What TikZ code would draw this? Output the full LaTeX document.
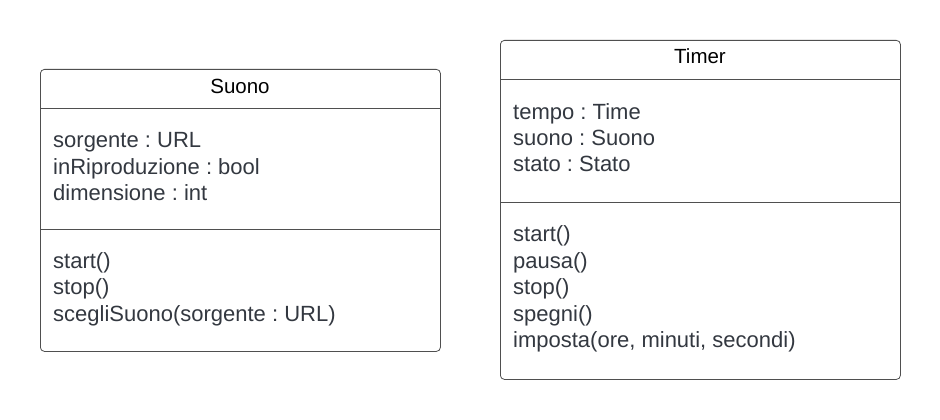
\documentclass[tikz,border=0pt]{standalone}
\usepackage{fontspec}
\setmainfont{Liberation Sans}
\definecolor{boxline}{HTML}{4F4F4F}
\definecolor{bodytext}{HTML}{333840}
\frenchspacing
\begin{document}
\begin{tikzpicture}[x=1pt,y=-1pt,
  classbox/.style={draw=boxline, line width=0.8pt, rounded corners=4pt,
    minimum width=400pt, inner sep=0pt, anchor=north west},
  divider/.style={draw=boxline, line width=0.8pt},
  classname/.style={anchor=base, inner sep=0pt, text=black,
    font=\fontsize{20.5}{24}\selectfont},
  member/.style={anchor=base west, inner sep=0pt, text=bodytext,
    font=\fontsize{22}{26}\selectfont}]
\useasboundingbox[fill=white] (0,0) rectangle (940,420);

% class Suono
\node[classbox, minimum height=282pt] (suono) at (40,69) {};
\draw[divider] ([yshift=-39pt]suono.north west) -- ([yshift=-39pt]suono.north east);
\draw[divider] ([yshift=-160pt]suono.north west) -- ([yshift=-160pt]suono.north east);
\node[classname] (suonoName) at (240,93.3) {Suono};
\foreach \txt [count=\i] in {sorgente : URL, inRiproduzione : bool, dimensione : int}
  \node[member] (suonoAttr\i) at (53,{147.7+26.5*(\i-1)}) {\txt};
\foreach \txt [count=\i] in {start(), stop(), scegliSuono(sorgente : URL)}
  \node[member] (suonoOp\i) at (53,{268.3+26.5*(\i-1)}) {\txt};

% class Timer
\node[classbox, minimum height=339pt] (timer) at (500,40) {};
\draw[divider] ([yshift=-39pt]timer.north west) -- ([yshift=-39pt]timer.north east);
\draw[divider] ([yshift=-162pt]timer.north west) -- ([yshift=-162pt]timer.north east);
\node[classname] (timerName) at (700,63.3) {Timer};
\foreach \txt [count=\i] in {tempo : Time, suono : Suono, stato : Stato}
  \node[member] (timerAttr\i) at (513,{119.3+26.3*(\i-1)}) {\txt};
\foreach \txt [count=\i] in {start(), pausa(), stop(), spegni(), {imposta(ore, minuti, secondi)}}
  \node[member] (timerOp\i) at (513,{241.7+26.45*(\i-1)}) {\txt};
\end{tikzpicture}
\end{document}
